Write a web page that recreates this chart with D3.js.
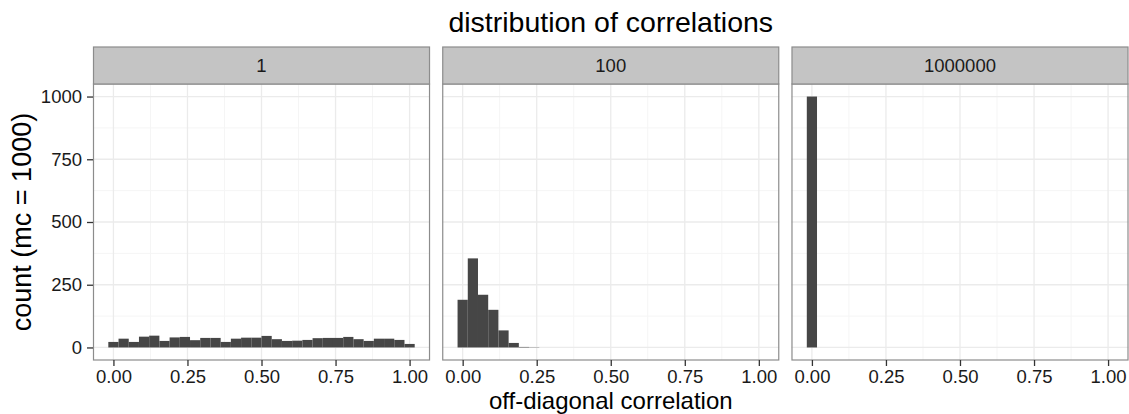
<!DOCTYPE html>
<html>
<head>
<meta charset="utf-8">
<script src="https://cdn.jsdelivr.net/npm/d3@7"></script>
<style>
  body { margin: 0; background: #fff; }
  text { font-family: "Liberation Sans", Arial, Helvetica, sans-serif; }
</style>
</head>
<body>
<div id="chart"></div>
<script>
// facet labels (number of ... per panel)
const facets = ["1", "100", "1000000"];

// histogram counts per bin (30 bins, bin width = 1/29, centred on 0 .. 1)
const counts1 = [22, 35, 22, 43, 47, 26, 40, 42, 29, 38, 38, 22, 35, 39, 39, 46, 33, 26, 27, 30, 37, 38, 38, 42, 33, 26, 35, 35, 30, 14];
const counts100 = [190, 355, 210, 150, 68, 18, 2, 1, 0, 0, 0, 0, 0, 0, 0, 0, 0, 0, 0, 0, 0, 0, 0, 0, 0, 0, 0, 0, 0, 0];
const counts1e6 = [1000, 0, 0, 0, 0, 0, 0, 0, 0, 0, 0, 0, 0, 0, 0, 0, 0, 0, 0, 0, 0, 0, 0, 0, 0, 0, 0, 0, 0, 0];

const xTicks = [0, 0.25, 0.5, 0.75, 1];
const xMinor = [0.125, 0.375, 0.625, 0.875];
const yTicks = [0, 250, 500, 750, 1000];
const yMinor = [125, 375, 625, 875];

const binWidth = 1 / 29;
const panelCounts = [counts1, counts100, counts1e6];

const width = 1129, height = 414;
const margin = { top: 84, right: 0.5, bottom: 54, left: 93 };
const stripTop = 47;

const svg = d3.select("#chart").append("svg")
  .attr("width", width)
  .attr("height", height);

// panel positions
const fx = d3.scaleBand()
  .domain(facets)
  .range([margin.left, width - margin.right])
  .paddingInner(0.035);

// shared x scale, domain = bin extent expanded by 5%
const lo = -binWidth / 2, hi = 1 + binWidth / 2;
const ex = (hi - lo) * 0.05;
const x = d3.scaleLinear()
  .domain([lo - ex, hi + ex])
  .range([0, fx.bandwidth()]);

const y = d3.scaleLinear()
  .domain([-50, 1050])
  .range([height - margin.bottom, margin.top]);

const yTop = margin.top, yBot = height - margin.bottom;

// title
svg.append("text")
  .attr("x", margin.left + (width - margin.right - margin.left) / 2)
  .attr("y", 32)
  .attr("text-anchor", "middle")
  .style("font-size", "28.5px")
  .attr("fill", "#000")
  .text("distribution of correlations");

facets.forEach((f, i) => {
  const g = svg.append("g").attr("transform", `translate(${fx(f)},0)`);
  const w = fx.bandwidth();

  // background
  g.append("rect").attr("x", 0).attr("y", yTop).attr("width", w).attr("height", yBot - yTop).attr("fill", "#fff");

  // minor grid
  g.selectAll(".xminor").data(xMinor).enter().append("line")
    .attr("x1", d => x(d)).attr("x2", d => x(d))
    .attr("y1", yTop).attr("y2", yBot)
    .attr("stroke", "#f5f5f5").attr("stroke-width", 1);
  g.selectAll(".yminor").data(yMinor).enter().append("line")
    .attr("x1", 0).attr("x2", w)
    .attr("y1", d => y(d)).attr("y2", d => y(d))
    .attr("stroke", "#f5f5f5").attr("stroke-width", 1);

  // major grid
  g.selectAll(".xmajor").data(xTicks).enter().append("line")
    .attr("x1", d => x(d)).attr("x2", d => x(d))
    .attr("y1", yTop).attr("y2", yBot)
    .attr("stroke", "#ebebeb").attr("stroke-width", 1.3);
  g.selectAll(".ymajor").data(yTicks).enter().append("line")
    .attr("x1", 0).attr("x2", w)
    .attr("y1", d => y(d)).attr("y2", d => y(d))
    .attr("stroke", "#ebebeb").attr("stroke-width", 1.3);

  // bars
  const bins = panelCounts[i].map((c, k) => ({ x0: k * binWidth - binWidth / 2, x1: k * binWidth + binWidth / 2, c }));
  g.selectAll(".bar").data(bins).enter().append("rect")
    .attr("x", d => x(d.x0))
    .attr("width", d => x(d.x1) - x(d.x0))
    .attr("y", d => y(d.c))
    .attr("height", d => y(0) - y(d.c))
    .attr("fill", "#464646");

  // panel border
  g.append("rect").attr("x", 0.5).attr("y", yTop).attr("width", w - 1).attr("height", yBot - yTop)
    .attr("fill", "none").attr("stroke", "#8c8c8c").attr("stroke-width", 1.2);

  // strip
  g.append("rect").attr("x", 0.5).attr("y", stripTop).attr("width", w - 1).attr("height", yTop - stripTop)
    .attr("fill", "#c4c4c4").attr("stroke", "#8c8c8c").attr("stroke-width", 1.2);
  g.append("text")
    .attr("x", w / 2).attr("y", (stripTop + yTop) / 2)
    .attr("text-anchor", "middle").attr("dominant-baseline", "central")
    .style("font-size", "18.5px").attr("fill", "#1a1a1a")
    .text(f);

  // x axis
  const xAxis = g.append("g")
    .attr("transform", `translate(0,${yBot})`)
    .call(d3.axisBottom(x).tickValues(xTicks).tickFormat(d3.format(".2f")).tickSize(6).tickPadding(3.5));
  xAxis.select(".domain").remove();
  xAxis.selectAll(".tick line").attr("stroke", "#333").attr("stroke-width", 1.3);
  xAxis.selectAll(".tick text").style("font-size", "18.5px").attr("fill", "#1a1a1a");
});

// y axis
const yAxis = svg.append("g")
  .attr("transform", `translate(${margin.left},0)`)
  .call(d3.axisLeft(y).tickValues(yTicks).tickFormat(d3.format("d")).tickSize(6).tickPadding(5));
yAxis.select(".domain").remove();
yAxis.selectAll(".tick line").attr("stroke", "#333").attr("stroke-width", 1.3);
yAxis.selectAll(".tick text").style("font-size", "18.5px").attr("fill", "#1a1a1a");

// axis titles
svg.append("text")
  .attr("x", margin.left + (width - margin.right - margin.left) / 2)
  .attr("y", 408.5)
  .attr("text-anchor", "middle")
  .style("font-size", "24px")
  .text("off-diagonal correlation");

svg.append("text")
  .attr("transform", `translate(31,${(yTop + yBot) / 2}) rotate(-90)`)
  .attr("text-anchor", "middle")
  .style("font-size", "27px")
  .text("count (mc = 1000)");
</script>
</body>
</html>
